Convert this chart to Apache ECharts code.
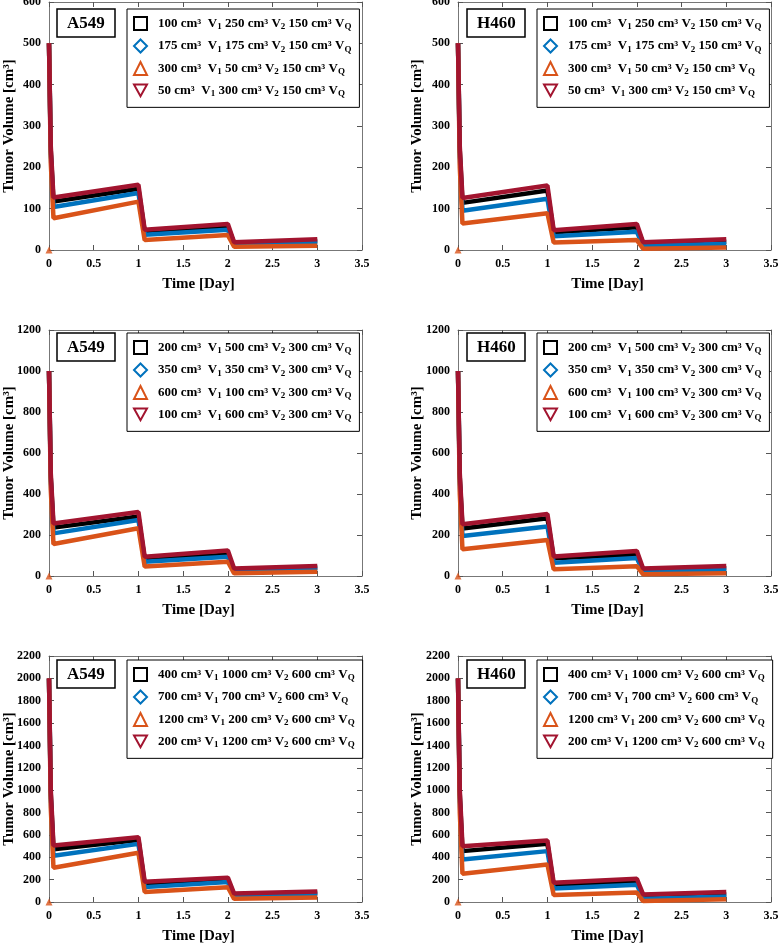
<!DOCTYPE html>
<html>
<head>
<meta charset="utf-8">
<script src="https://cdn.jsdelivr.net/npm/echarts/dist/echarts.min.js"></script>
<style>
html, body { margin: 0; padding: 0; background: #fff; }
#c { width: 778px; height: 944px; }
</style>
</head>
<body>
<div id="c"></div>
<script>
// time points (days) shared by every curve
var timeDays = [0, 0.02, 0.05, 1, 1.07, 2, 2.07, 3];

// legend labels per row (V1, V2, VQ get subscripts in the formatter)
var labels150 = ['100 cm³  V1 250 cm³ V2 150 cm³ VQ', '175 cm³  V1 175 cm³ V2 150 cm³ VQ', '300 cm³  V1 50 cm³ V2 150 cm³ VQ', '50 cm³  V1 300 cm³ V2 150 cm³ VQ'];
var labels300 = ['200 cm³  V1 500 cm³ V2 300 cm³ VQ', '350 cm³  V1 350 cm³ V2 300 cm³ VQ', '600 cm³  V1 100 cm³ V2 300 cm³ VQ', '100 cm³  V1 600 cm³ V2 300 cm³ VQ'];
var labels600 = ['400 cm³ V1 1000 cm³ V2 600 cm³ VQ', '700 cm³ V1 700 cm³ V2 600 cm³ VQ', '1200 cm³ V1 200 cm³ V2 600 cm³ VQ', '200 cm³ V1 1200 cm³ V2 600 cm³ VQ'];

// tumor volume, order: square(black), diamond(blue), triangle(orange), inverted triangle(red)
var a549Row1 = [
    [500, 240, 117, 148, 45, 57, 16, 22],
    [500, 230, 104, 138, 37, 49, 12, 18],
    [500, 210, 77, 117, 24, 36, 8, 10],
    [500, 250, 127, 158, 49, 63, 19, 26]
];
var h460Row1 = [
    [500, 240, 114, 144, 43, 55, 16, 20],
    [500, 225, 95, 124, 33, 44, 10, 15],
    [500, 200, 64, 89, 18, 24, 3, 6],
    [500, 250, 126, 156, 48, 63, 19, 26]
];
var a549Row2 = [
    [1000, 480, 236, 290, 82, 104, 30, 41],
    [1000, 460, 208, 273, 70, 94, 24, 36],
    [1000, 420, 156, 233, 46, 70, 13, 21],
    [1000, 500, 256, 312, 94, 124, 37, 49]
];
var h460Row2 = [
    [1000, 480, 232, 282, 86, 104, 30, 38],
    [1000, 450, 195, 242, 65, 88, 21, 29],
    [1000, 400, 130, 176, 33, 48, 8, 13],
    [1000, 500, 252, 302, 95, 122, 37, 49]
];
var a549Row3 = [
    [2000, 960, 472, 555, 162, 200, 62, 82],
    [2000, 920, 413, 520, 133, 178, 50, 70],
    [2000, 840, 307, 440, 90, 132, 28, 40],
    [2000, 1000, 505, 580, 182, 218, 75, 95]
];
var h460Row3 = [
    [2000, 960, 455, 520, 150, 187, 50, 68],
    [2000, 900, 380, 455, 120, 155, 30, 50],
    [2000, 800, 253, 336, 62, 85, 8, 24],
    [2000, 1000, 499, 550, 172, 208, 68, 89]
];
// stray orange marker at the origin
var originMark = [[0, 0]];

var yMax = [600, 1200, 2200];
var yStep = [100, 200, 200];

var colors = ['#000000', '#0072BD', '#D95319', '#A2142F'];
var icons = ['rect', 'diamond', 'triangle', 'path://M0,0L10,0L5,9Z'];
var font = 'Liberation Serif';

var rowLabels = [labels150, labels300, labels600];
var rowData = [[a549Row1, h460Row1], [a549Row2, h460Row2], [a549Row3, h460Row3]];
var cellNames = ['A549', 'H460'];

var gridLeft = [49, 458];
var gridTop = [2, 330, 656];
var gridH = [248, 246, 246];
var legendLeft = [127, 537];
var legendTop = [9, 333, 660];
var tagLeft = [57, 467];

var grid = [], xAxis = [], yAxis = [], series = [], legend = [], title = [];

function axisBase(g) {
    return {
        gridIndex: g,
        type: 'value',
        nameMoveOverlap: false,
        axisLine: { onZero: false, lineStyle: { color: '#777', width: 1 } },
        axisTick: { inside: true, length: 5, lineStyle: { color: '#555' } },
        splitLine: { show: false },
        axisLabel: {
            color: '#000', fontFamily: font, fontWeight: 'bold', fontSize: 12,
            formatter: function (v) { return String(v); }
        },
        nameTextStyle: { color: '#000', fontFamily: font, fontWeight: 'bold', fontSize: 15 }
    };
}

for (var r = 0; r < 3; r++) {
    for (var c = 0; c < 2; c++) {
        var g = r * 2 + c;
        grid.push({
            left: gridLeft[c], top: gridTop[r], width: 313, height: gridH[r],
            containLabel: false, outerBoundsMode: 'none'
        });

        var xb = axisBase(g);
        xb.min = 0; xb.max = 3.5; xb.interval = 0.5; xb.position = 'bottom';
        xb.name = 'Time [Day]'; xb.nameLocation = 'middle'; xb.nameGap = 27;
        xb.nameTextStyle.padding = [0, 14, 0, 0];
        xAxis.push(xb);
        var xt = axisBase(g);
        xt.min = 0; xt.max = 3.5; xt.interval = 0.5; xt.position = 'top';
        xt.axisLabel = { show: false };
        xAxis.push(xt);

        var yl = axisBase(g);
        yl.min = 0; yl.max = yMax[r]; yl.interval = yStep[r]; yl.position = 'left';
        yl.name = 'Tumor Volume [cm³]'; yl.nameLocation = 'middle';
        yl.nameGap = c === 0 ? 32 : 33;
        yAxis.push(yl);
        var yr = axisBase(g);
        yr.min = 0; yr.max = yMax[r]; yr.interval = yStep[r]; yr.position = 'right';
        yr.axisLabel = { show: false };
        yAxis.push(yr);

        var vals = rowData[r][c];
        var names = rowLabels[r];
        for (var k = 0; k < 4; k++) {
            series.push({
                type: 'line',
                name: names[k],
                xAxisIndex: g * 2,
                yAxisIndex: g * 2,
                data: timeDays.map(function (t, i) { return [t, vals[k][i]]; }),
                showSymbol: false,
                lineStyle: { width: 4.5, color: colors[k] },
                itemStyle: { color: colors[k] },
                z: 2 + k
            });
        }
        series.push({
            type: 'scatter',
            xAxisIndex: g * 2,
            yAxisIndex: g * 2,
            data: originMark,
            symbol: 'triangle',
            symbolSize: 7,
            itemStyle: { color: colors[2] },
            z: 10
        });

        legend.push({
            left: legendLeft[c],
            top: legendTop[r],
            orient: 'vertical',
            data: names.map(function (n, k) {
                return {
                    name: n,
                    icon: icons[k],
                    itemStyle: { color: 'rgba(0,0,0,0)', borderColor: colors[k], borderWidth: 2 }
                };
            }),
            itemWidth: 13,
            itemHeight: 13,
            itemGap: 7,
            selectedMode: false,
            borderColor: '#000',
            borderWidth: 1,
            backgroundColor: '#fff',
            padding: [7, 8, 9, 6],
            formatter: function (n) { return n.replace(/V(1|2|Q)/g, 'V{s|$1}'); },
            textStyle: {
                color: '#000', fontFamily: font, fontWeight: 'bold', fontSize: 13,
                padding: [0, 0, 0, 6],
                rich: { s: { fontFamily: font, fontWeight: 'bold', fontSize: 9, padding: [7, 0, 0, 0] } }
            }
        });

        title.push({
            text: cellNames[c],
            left: tagLeft[c],
            top: legendTop[r],
            borderColor: '#000',
            borderWidth: 1.5,
            backgroundColor: '#fff',
            padding: [6, 10, 5, 10],
            textStyle: { color: '#000', fontFamily: font, fontWeight: 'bold', fontSize: 17 }
        });
    }
}

var myChart = echarts.init(document.getElementById('c'));
myChart.setOption({
    animation: false,
    title: title,
    legend: legend,
    grid: grid,
    xAxis: xAxis,
    yAxis: yAxis,
    series: series
});
</script>
</body>
</html>
